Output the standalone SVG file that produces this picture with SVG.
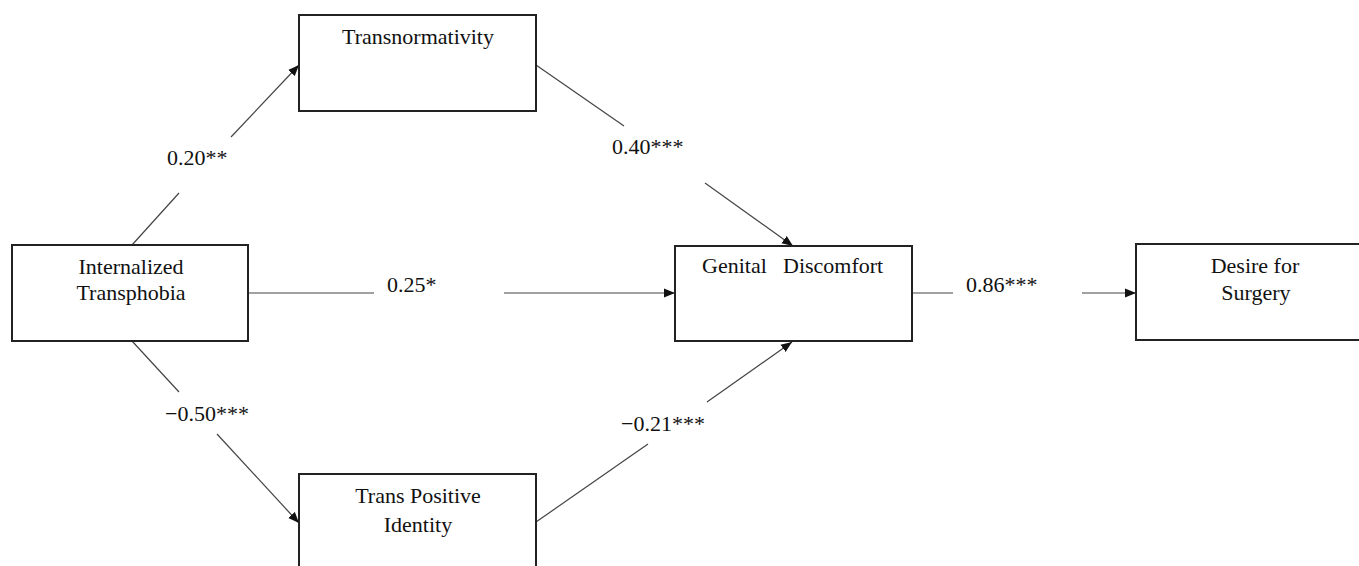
<svg xmlns="http://www.w3.org/2000/svg" width="1359" height="566" viewBox="0 0 1359 566">
<style>
.box{fill:#fff;stroke:#222;stroke-width:2}
.t{font-family:"Liberation Serif","Times New Roman",serif;font-size:22px;fill:#111}
.c{text-anchor:middle}
.ln{stroke:#444;stroke-width:1.2;fill:none}
.ar{marker-end:url(#ah)}
</style>
<defs>
<marker id="ah" markerUnits="userSpaceOnUse" markerWidth="12" markerHeight="10" refX="11" refY="5" orient="auto">
<path d="M0,0.5 L11,5 L0,9.5 z" fill="#111"/>
</marker>
</defs>
<rect width="1359" height="566" fill="#fff"/>
<g id="connectors">
<line class="ln" x1="132" y1="245" x2="179" y2="193"/>
<line class="ln ar" x1="231" y1="137" x2="299" y2="65"/>
<text class="t" x="167" y="165">0.20**</text>
<line class="ln" x1="132" y1="341" x2="179" y2="392"/>
<line class="ln ar" x1="217" y1="434" x2="299" y2="523"/>
<text class="t" x="165" y="421">−0.50***</text>
<line class="ln" x1="248" y1="293" x2="374" y2="293"/>
<line class="ln ar" x1="504" y1="293" x2="675" y2="293"/>
<text class="t" x="387" y="292">0.25*</text>
<line class="ln" x1="536" y1="65" x2="624" y2="126"/>
<line class="ln ar" x1="705" y1="183" x2="793" y2="246"/>
<text class="t" x="612" y="154">0.40***</text>
<line class="ln" x1="536" y1="522" x2="648" y2="444"/>
<line class="ln ar" x1="707" y1="402" x2="792" y2="342"/>
<text class="t" x="621" y="431">−0.21***</text>
<line class="ln" x1="912" y1="293" x2="953" y2="293"/>
<line class="ln ar" x1="1082" y1="293" x2="1136" y2="293" stroke="#777"/>
<text class="t" x="966" y="292">0.86***</text>
</g>
<g id="transnormativity">
<rect class="box" x="299" y="15" width="237" height="96"/>
<text class="t c" x="418" y="44">Transnormativity</text>
</g>
<g id="internalized-transphobia">
<rect class="box" x="12" y="245" width="236" height="96"/>
<text class="t c" x="131" y="274">Internalized</text>
<text class="t c" x="131" y="300">Transphobia</text>
</g>
<g id="trans-positive-identity">
<rect class="box" x="299" y="474" width="237" height="110"/>
<text class="t c" x="418" y="503">Trans Positive</text>
<text class="t c" x="418" y="532">Identity</text>
</g>
<g id="genital-discomfort">
<rect class="box" x="675" y="246" width="237" height="95"/>
<text class="t" y="273"><tspan x="702">Genital</tspan><tspan x="783">Discomfort</tspan></text>
</g>
<g id="desire-for-surgery">
<rect class="box" x="1136" y="244" width="237" height="96"/>
<text class="t c" x="1255" y="273">Desire for</text>
<text class="t c" x="1256" y="300">Surgery</text>
</g>
</svg>
